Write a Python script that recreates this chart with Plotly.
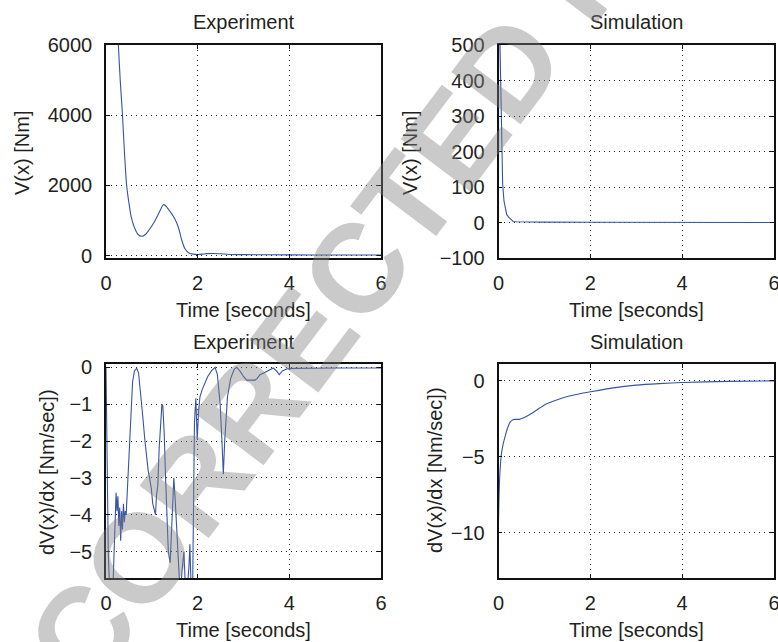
import plotly.graph_objects as go

# ---------------- data ----------------
# Top-left: Experiment, V(x) [Nm]
exp_v_t = [0.22, 0.27, 0.31, 0.36, 0.40, 0.45, 0.50, 0.55, 0.62, 0.70, 0.78, 0.86, 0.95, 1.05,
           1.15, 1.25, 1.30, 1.40, 1.50, 1.58, 1.65, 1.72, 1.80, 1.90, 2.00, 2.10, 2.20, 2.35,
           2.50, 2.70, 3.00, 4.00, 5.00, 6.00]
exp_v = [7500, 6000, 5000, 4000, 3000, 2000, 1500, 1100, 800, 600, 550, 600, 750, 950,
         1200, 1450, 1420, 1250, 1050, 800, 450, 200, 80, 40, 30, 40, 55, 60,
         50, 30, 25, 20, 15, 15]

# Top-right: Simulation, V(x) [Nm]
sim_v_t = [0.0, 0.005, 0.03, 0.05, 0.07, 0.09, 0.12, 0.15, 0.18, 0.22, 0.27, 0.32, 0.40,
           0.60, 1.0, 2.0, 3.0, 4.0, 5.0, 6.0]
sim_v = [0, 1500, 520, 350, 200, 110, 60, 35, 22, 15, 8, 3, 2,
         1.5, 1, 0.5, 0.3, 0.2, 0.1, 0.1]

# Bottom-left: Experiment, dV(x)/dx [Nm/sec]
exp_dv_t = [0, 0.02, 0.05, 0.09, 0.12, 0.15, 0.19, 0.22, 0.24, 0.26, 0.28, 0.30, 0.32, 0.34,
            0.36, 0.38, 0.40, 0.42, 0.44, 0.47, 0.50, 0.54, 0.58, 0.62, 0.67, 0.71, 0.75,
            0.80, 0.85, 0.88, 0.92, 0.95, 0.99, 1.02, 1.05, 1.08, 1.10, 1.13, 1.16, 1.19,
            1.22, 1.24, 1.27, 1.30, 1.33, 1.36, 1.40, 1.43, 1.46, 1.48, 1.51, 1.55, 1.59,
            1.62, 1.66, 1.70, 1.74, 1.78, 1.81, 1.83, 1.85, 1.87, 1.89, 1.91, 1.93, 1.96,
            1.99, 2.02, 2.05, 2.10, 2.16, 2.22, 2.30, 2.38, 2.43, 2.49, 2.53, 2.56, 2.59,
            2.62, 2.65, 2.72, 2.80, 2.85, 2.92, 3.00, 3.07, 3.15, 3.25, 3.30, 3.36, 3.45,
            3.58, 3.65, 3.72, 3.78, 3.85, 3.95, 4.10, 4.50, 5.00, 5.50, 6.00]
exp_dv = [0, -2.5, -5.0, -6.5, -6.5, -6.0, -4.5, -3.4, -3.9, -3.5, -4.3, -3.8, -4.7, -3.9,
          -4.4, -3.7, -4.2, -3.9, -4.0, -3.2, -2.2, -1.1, -0.4, -0.1, -0.03, -0.15, -0.6,
          -1.3, -2.0, -2.4, -2.8, -3.0, -3.3, -3.7, -3.9, -4.0, -3.5, -3.2, -2.2, -1.4,
          -1.0, -1.05, -1.8, -3.0, -4.2, -5.0, -5.3, -4.4, -3.2, -3.0, -3.6, -4.8, -5.6,
          -6.2, -5.5, -5.0, -6.2, -5.9, -5.4, -4.8, -5.7, -6.3, -6.0, -3.5, -1.5, -0.84,
          -1.95, -1.2, -0.8, -0.6, -0.4, -0.25, -0.1, 0.0, -0.2, -1.0, -2.0, -2.9, -2.0,
          -1.2, -0.8, -0.3, -0.05, 0.0, -0.1, -0.25, -0.35, -0.35, -0.35, -0.3, -0.2, -0.15,
          -0.08, -0.02, -0.1, -0.2, -0.1, -0.04, -0.03, -0.02, -0.02, -0.02, -0.02]

# Bottom-right: Simulation, dV(x)/dx [Nm/sec]
sim_dv_t = [0, 0.01, 0.02, 0.04, 0.06, 0.10, 0.15, 0.20, 0.25, 0.30, 0.35, 0.45, 0.55, 0.70,
            0.85, 1.0, 1.25, 1.5, 1.75, 2.0, 2.5, 3.0, 3.5, 4.0, 5.0, 6.0]
sim_dv = [-9.3, -7.8, -6.8, -5.6, -4.9, -4.2, -3.6, -3.1, -2.75, -2.6, -2.55, -2.55, -2.45, -2.2,
          -1.9, -1.6, -1.3, -1.05, -0.88, -0.74, -0.48, -0.3, -0.2, -0.13, -0.05, -0.02]

x_ticks = [0, 2, 4, 6]
titles = ["Experiment", "Simulation", "Experiment", "Simulation"]
ylabels = ["V(x) [Nm]", "V(x) [Nm]", "dV(x)/dx [Nm/sec])", "dV(x)/dx [Nm/sec])"]
xlabel = "Time [seconds]"
watermark = "CORRECTED PROOF"

# ---------------- figure ----------------
W, H = 778, 642
FONT = "Liberation Sans, Arial, Helvetica, sans-serif"
TXT = "#231f20"
LINE = "#3653a8"

def fx(px):
    return px / W

def fy(py):
    return 1 - py / H

boxes = {  # left, right, top, bottom (px)
    1: (106, 381, 45, 258),
    2: (498.5, 774, 45, 258),
    3: (106, 381, 364.3, 578.3),
    4: (498.5, 774, 364.3, 578.3),
}

fig = go.Figure()
series = [(exp_v_t, exp_v), (sim_v_t, sim_v), (exp_dv_t, exp_dv), (sim_dv_t, sim_dv)]
shapes_line = ["spline", "linear", "linear", "spline"]
for i, (tx, vy) in enumerate(series, start=1):
    fig.add_trace(go.Scatter(x=tx, y=vy, mode="lines",
                             line=dict(color=LINE, width=1.1, shape=shapes_line[i - 1],
                                       smoothing=0.6),
                             xaxis=f"x{i}", yaxis=f"y{i}", showlegend=False,
                             hoverinfo="skip"))

yranges = {1: [-70, 6000], 2: [-100, 500], 3: [-5.72, 0.08], 4: [-13, 1.07]}
yticks = {1: [0, 2000, 4000, 6000], 2: [-100, 0, 100, 200, 300, 400, 500],
          3: [-5, -4, -3, -2, -1, 0], 4: [-10, -5, 0]}

axis_common = dict(showline=True, linecolor="#111111", linewidth=1.6, mirror="ticks",
                   ticks="inside", ticklen=4, tickcolor="#111111",
                   showgrid=True, gridcolor="#222222", gridwidth=1, griddash="1px,4px",
                   zeroline=False, automargin=False, ticklabeloverflow="allow",
                   tickfont=dict(family=FONT, size=20, color=TXT))

layout = dict(width=W, height=H, margin=dict(l=0, r=0, t=0, b=0, autoexpand=False),
              paper_bgcolor="white", plot_bgcolor="white", showlegend=False)

annotations = []
for i in range(1, 5):
    l, r, t, b = boxes[i]
    sx = "" if i == 1 else str(i)
    layout[f"xaxis{sx}"] = dict(axis_common, domain=[fx(l), fx(r)], anchor=f"y{i}",
                                range=[0, 6], tickvals=x_ticks, ticklabelstandoff=6)
    layout[f"yaxis{sx}"] = dict(axis_common, domain=[fy(b), fy(t)], anchor=f"x{i}",
                                range=yranges[i], tickvals=yticks[i], ticklabelstandoff=8)
    cx = (l + r) / 2
    # title
    annotations.append(dict(text=titles[i - 1], x=fx(cx), y=fy(t - 22.5), xref="paper", yref="paper",
                            xanchor="center", yanchor="middle", showarrow=False,
                            font=dict(family=FONT, size=20, color=TXT)))
    # x label
    annotations.append(dict(text=xlabel, x=fx(cx), y=fy(b + 52), xref="paper", yref="paper",
                            xanchor="center", yanchor="middle", showarrow=False,
                            font=dict(family=FONT, size=20, color=TXT)))

ylab_pos = {1: (22, 153), 2: (410, 153), 3: (47, 472), 4: (435, 470)}
for i in range(1, 5):
    px, py = ylab_pos[i]
    annotations.append(dict(text=ylabels[i - 1], x=fx(px), y=fy(py), xref="paper", yref="paper",
                            xanchor="center", yanchor="middle", showarrow=False, textangle=-90,
                            font=dict(family=FONT, size=20, color=TXT)))

annotations.append(dict(text=watermark, x=fx(440), y=fy(158), xref="paper", yref="paper",
                        xanchor="center", yanchor="middle", showarrow=False, textangle=-53,
                        font=dict(family=FONT, size=126, color="rgba(128,128,128,0.42)",
                                  weight="bold")))

layout["annotations"] = annotations
fig.update_layout(**layout)
fig.write_html("out.html")
